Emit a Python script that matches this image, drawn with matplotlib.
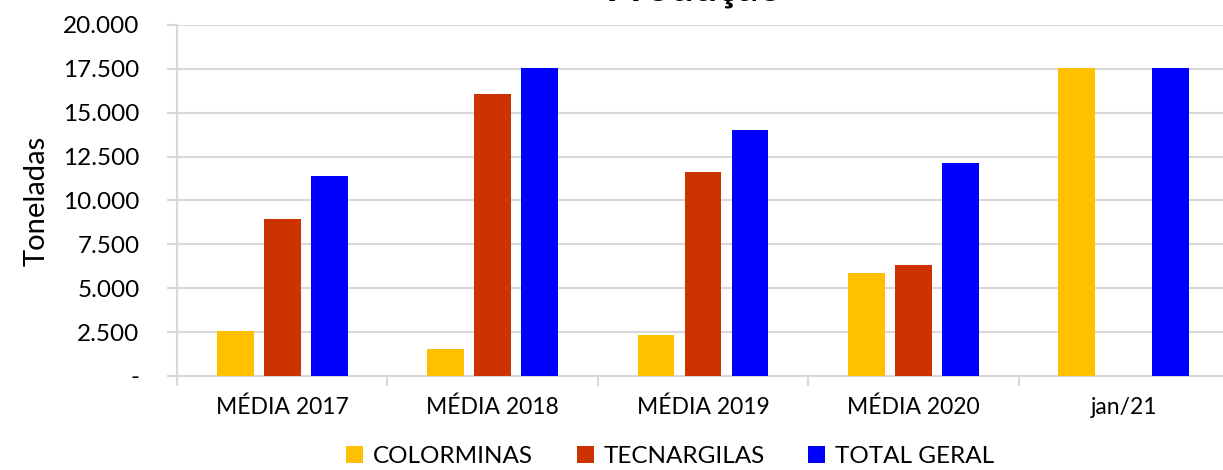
import matplotlib.pyplot as plt
import numpy as np
from matplotlib.ticker import FuncFormatter

categories = ['MÉDIA 2017', 'MÉDIA 2018', 'MÉDIA 2019', 'MÉDIA 2020', 'jan/21']
colorminas = [2560, 1540, 2340, 5870, 17550]
tecnargilas = [8950, 16070, 11620, 6320, 0]
total_geral = [11400, 17550, 14020, 12140, 17550]

series = [('COLORMINAS', colorminas, '#ffc000'),
          ('TECNARGILAS', tecnargilas, '#cc3300'),
          ('TOTAL GERAL', total_geral, '#0000ff')]

plt.rcParams['font.family'] = ['Lato', 'DejaVu Sans']

fig = plt.figure(figsize=(12.23, 4.7), dpi=100)
ax = fig.add_axes([177 / 1223, 94 / 470, 1052 / 1223, 351 / 470])

x = np.arange(len(categories))
width = 0.175
offsets = [-0.223, 0, 0.223]
for (name, vals, color), off in zip(series, offsets):
    ax.bar(x + off, vals, width, color=color, label=name, zorder=3)

ax.set_xlim(-0.5, len(categories) - 0.5)
ax.set_ylim(0, 20000)
ax.set_yticks(np.arange(0, 20001, 2500))
ax.yaxis.set_major_formatter(FuncFormatter(
    lambda v, p: '-' if v == 0 else f'{v:,.0f}'.replace(',', '.')))
ax.set_xticks(x)
ax.set_xticklabels(categories, fontsize=16.5)
ax.set_xticks(np.arange(-0.5, len(categories)), minor=True)
ax.tick_params(axis='x', which='major', length=0, pad=15)
ax.tick_params(axis='x', which='minor', length=7, color='#d9d9d9', width=1.5)
ax.tick_params(axis='y', length=7, color='#d9d9d9', width=1.5, labelsize=17.5, pad=20)

ax.grid(axis='y', color='#d9d9d9', linewidth=1.5, zorder=0)
for s in ['top', 'right']:
    ax.spines[s].set_visible(False)
for s in ['left', 'bottom']:
    ax.spines[s].set_color('#d9d9d9')
    ax.spines[s].set_linewidth(1.5)

ax.set_ylabel('Toneladas', fontsize=21, labelpad=10)

fig.text(0.568, 0.999, 'Produção', ha='center', va='baseline',
         fontsize=30, fontweight='bold')

fig.legend(loc='lower center', bbox_to_anchor=(0.548, -0.04), ncol=3,
           frameon=False, fontsize=17.5, handlelength=0.7, handleheight=0.7,
           handletextpad=0.4, columnspacing=1.8)

fig.savefig('out.png', dpi=100)
